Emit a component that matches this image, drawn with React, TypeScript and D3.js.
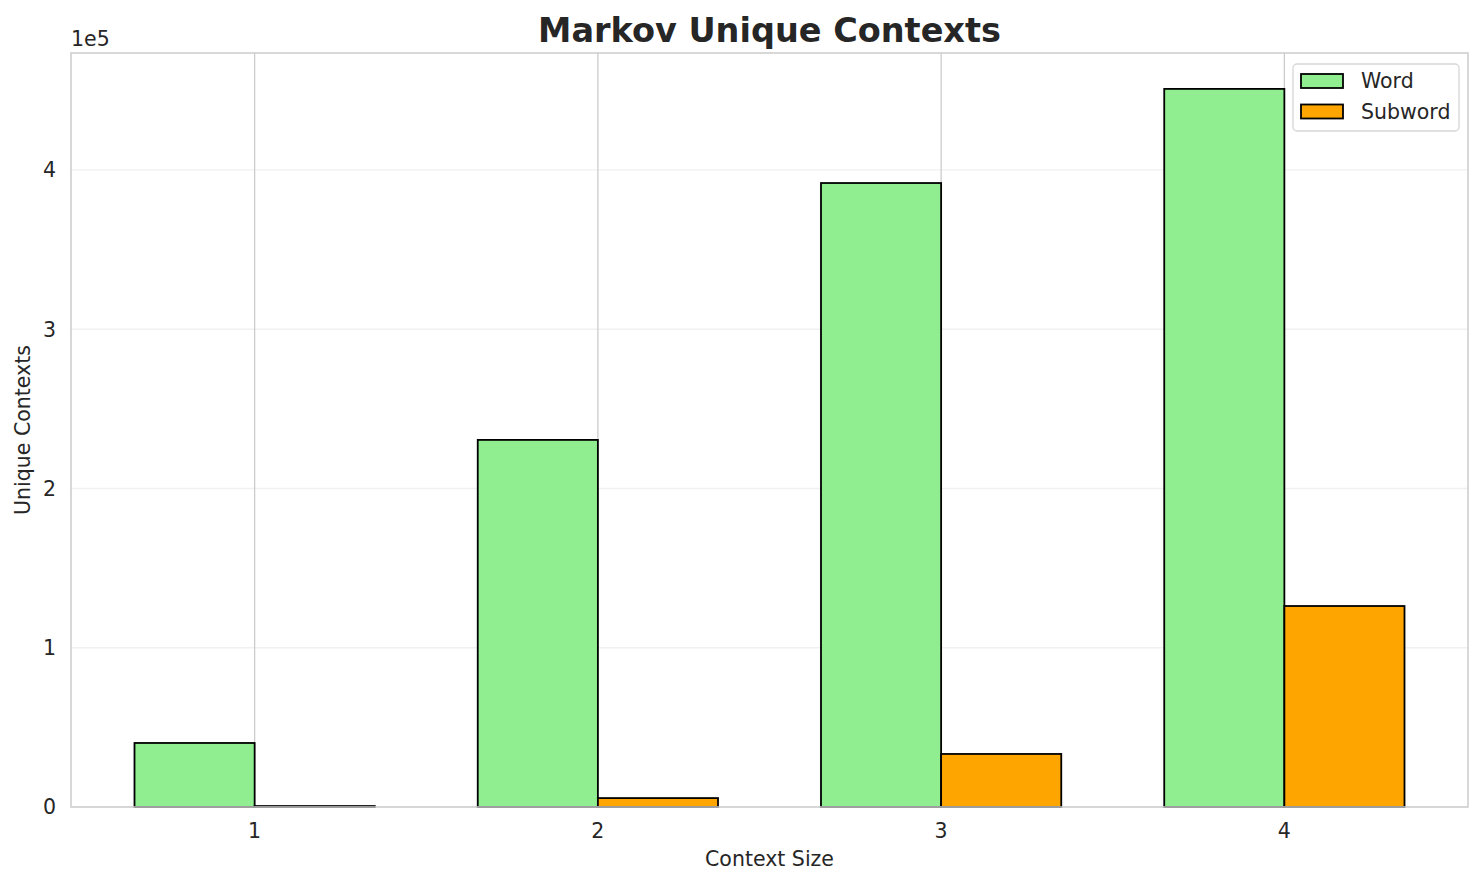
import React from "react";
import * as d3 from "d3";

const categories = [1, 2, 3, 4];
const wordValues = [40200, 230500, 391800, 450900];
const subwordValues = [600, 5600, 33300, 126200];
const yTicks = [0, 1, 2, 3, 4];
const seriesNames = ["Word", "Subword"];
const seriesColors = ["#90EE90", "#FFA500"];

const W = 1483;
const H = 885;
const left = 71;
const right = 1468;
const top = 53;
const bottom = 807;
const barW = 0.35;
const font = "'DejaVu Sans', sans-serif";
const textColor = "#262626";

export default function App() {
  const maxV = d3.max([...wordValues, ...subwordValues]) as number;
  const xMin = 1 - barW;
  const xMax = 4 + barW;
  const span = xMax - xMin;
  const x = d3.scaleLinear().domain([xMin - 0.05 * span, xMax + 0.05 * span]).range([left, right]);
  const y = d3.scaleLinear().domain([0, maxV * 1.05]).range([bottom, top]);
  const series = [wordValues, subwordValues];

  return (
    <svg width={W} height={H} style={{ position: "absolute", left: 0, top: 0, background: "#fff" }} fontFamily={font}>
      <rect x={0} y={0} width={W} height={H} fill="#fff" />
      {/* y grid */}
      {yTicks.map((t) => (
        <line key={"yg" + t} x1={left} x2={right} y1={y(t * 1e5)} y2={y(t * 1e5)} stroke="#f0f0f0" strokeWidth={1.3} />
      ))}
      {/* x grid */}
      {categories.map((c) => (
        <line key={"xg" + c} x1={x(c)} x2={x(c)} y1={top} y2={bottom} stroke="#cccccc" strokeWidth={1.3} />
      ))}
      {/* bars */}
      {series.map((vals, si) =>
        vals.map((v, i) => {
          const x0 = si === 0 ? x(categories[i] - barW) : x(categories[i]);
          const x1 = si === 0 ? x(categories[i]) : x(categories[i] + barW);
          return (
            <rect
              key={si + "-" + i}
              x={x0}
              y={y(v)}
              width={x1 - x0}
              height={y(0) - y(v)}
              fill={seriesColors[si]}
              stroke="#000"
              strokeWidth={1.8}
            />
          );
        })
      )}
      {/* spines */}
      <rect x={left} y={top} width={right - left} height={bottom - top} fill="none" stroke="#cccccc" strokeWidth={1.5} />
      {/* y ticks */}
      {yTicks.map((t) => (
        <text key={"yt" + t} x={56} y={y(t * 1e5)} dy="0.36em" textAnchor="end" fontSize={20.5} fill={textColor}>
          {t}
        </text>
      ))}
      <text x={71} y={46} fontSize={20.5} fill={textColor}>1e5</text>
      {/* x ticks */}
      {categories.map((c) => (
        <text key={"xt" + c} x={x(c)} y={838} textAnchor="middle" fontSize={20.5} fill={textColor}>
          {c}
        </text>
      ))}
      <text x={(left + right) / 2} y={866} textAnchor="middle" fontSize={20.5} fill={textColor}>
        Context Size
      </text>
      <text
        transform={`translate(29.5, ${(top + bottom) / 2}) rotate(-90)`}
        textAnchor="middle"
        fontSize={20.5}
        fill={textColor}
      >
        Unique Contexts
      </text>
      <text x={(left + right) / 2} y={42} textAnchor="middle" fontSize={33.5} fontWeight="bold" fill={textColor}>
        Markov Unique Contexts
      </text>
      {/* legend */}
      <rect x={1293} y={64} width={166} height={67} rx={4} fill="#fff" fillOpacity={0.8} stroke="#d6d6d6" strokeWidth={1.3} />
      {seriesNames.map((n, i) => (
        <g key={n}>
          <rect x={1301} y={74 + i * 30.5} width={42} height={14} fill={seriesColors[i]} stroke="#000" strokeWidth={1.8} />
          <text x={1361} y={88 + i * 30.5} fontSize={20.5} fill={textColor}>
            {n}
          </text>
        </g>
      ))}
    </svg>
  );
}
